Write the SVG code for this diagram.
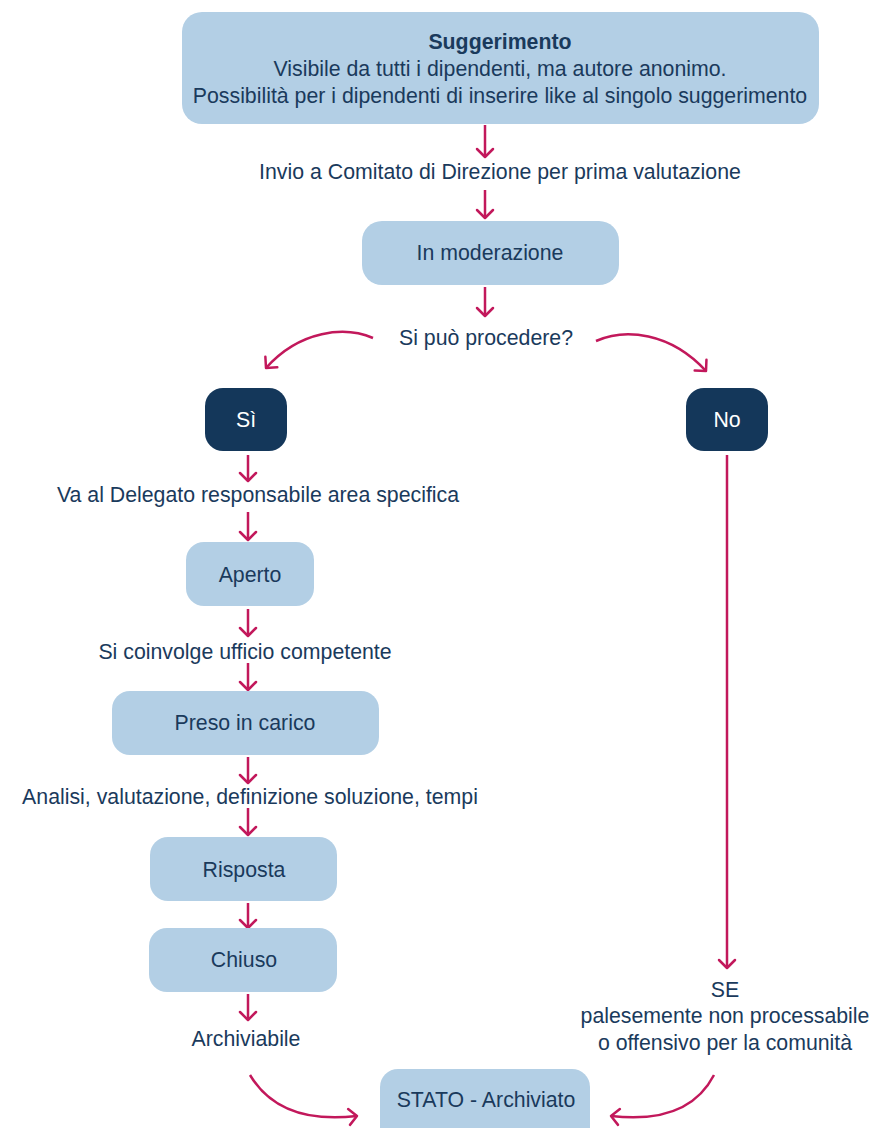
<svg xmlns="http://www.w3.org/2000/svg" width="872" height="1128" viewBox="0 0 872 1128">
<defs>
<marker id="ah" markerUnits="userSpaceOnUse" markerWidth="20" markerHeight="20" viewBox="-10 -10 20 20" refX="0" refY="0" orient="auto">
<path d="M-8,-8 L0,0 L-8,8" fill="none" stroke="#c2185b" stroke-width="2.5" stroke-linecap="round" stroke-linejoin="round"/>
</marker>
<style>
.lb{fill:#b3cfe5}
.dk{fill:#14375a}
.t{font-family:"Liberation Sans",Arial,sans-serif;font-size:21.3px;fill:#1a3a5c;text-anchor:middle}
.w{fill:#ffffff}
.b{font-weight:bold}
.c{fill:none;stroke:#c2185b;stroke-width:2.5;marker-end:url(#ah)}
</style>
</defs>
<rect width="872" height="1128" fill="#ffffff"/>
<g id="connectors">
<path class="c" d="M485,125 V157"/>
<path class="c" d="M485,190 V218"/>
<path class="c" d="M485,287 V316"/>
<path class="c" d="M373,338 C345,326 300,330 266,368"/>
<path class="c" d="M596,341 C625,328 670,332 706,371"/>
<path class="c" d="M248,455 V481"/>
<path class="c" d="M248,512 V540"/>
<path class="c" d="M248,609 V636"/>
<path class="c" d="M248,663 V690"/>
<path class="c" d="M248,757 V783"/>
<path class="c" d="M248,808 V835"/>
<path class="c" d="M248,903 V928"/>
<path class="c" d="M248,994 V1020"/>
<path class="c" d="M727,455 V968"/>
<path class="c" d="M250,1075 Q280,1125 357,1116"/>
<path class="c" d="M714,1075 Q688,1125 611,1116"/>
</g>
<g id="suggerimento">
<rect class="lb" x="182" y="12" width="637" height="112" rx="20"/>
<text class="t b" x="500" y="49">Suggerimento</text>
<text class="t" x="500" y="76">Visibile da tutti i dipendenti, ma autore anonimo.</text>
<text class="t" x="500" y="103">Possibilità per i dipendenti di inserire like al singolo suggerimento</text>
</g>
<g id="lbl-invio"><text class="t" x="500" y="179">Invio a Comitato di Direzione per prima valutazione</text></g>
<g id="moderazione">
<rect class="lb" x="362" y="221" width="257" height="64" rx="20"/>
<text class="t" x="490" y="260">In moderazione</text>
</g>
<g id="lbl-procedere"><text class="t" x="486" y="345">Si può procedere?</text></g>
<g id="si">
<rect class="dk" x="205" y="388" width="82" height="63" rx="18"/>
<text class="t w" x="246" y="427">Sì</text>
</g>
<g id="no">
<rect class="dk" x="686" y="388" width="82" height="63" rx="18"/>
<text class="t w" x="727" y="427">No</text>
</g>
<g id="lbl-delegato"><text class="t" x="258" y="502">Va al Delegato responsabile area specifica</text></g>
<g id="aperto">
<rect class="lb" x="186" y="542" width="128" height="64" rx="18"/>
<text class="t" x="250" y="582">Aperto</text>
</g>
<g id="lbl-ufficio"><text class="t" x="245" y="659">Si coinvolge ufficio competente</text></g>
<g id="preso">
<rect class="lb" x="112" y="691" width="267" height="64" rx="18"/>
<text class="t" x="245" y="730">Preso in carico</text>
</g>
<g id="lbl-analisi"><text class="t" x="250" y="804">Analisi, valutazione, definizione soluzione, tempi</text></g>
<g id="risposta">
<rect class="lb" x="150" y="837" width="187" height="64" rx="18"/>
<text class="t" x="244" y="877">Risposta</text>
</g>
<g id="chiuso">
<rect class="lb" x="149" y="928" width="188" height="64" rx="18"/>
<text class="t" x="244" y="967">Chiuso</text>
</g>
<g id="lbl-archiviabile"><text class="t" x="246" y="1046">Archiviabile</text></g>
<g id="lbl-se">
<text class="t" x="725" y="997">SE</text>
<text class="t" x="725" y="1023">palesemente non processabile</text>
<text class="t" x="725" y="1050">o offensivo per la comunità</text>
</g>
<g id="archiviato">
<rect class="lb" x="380" y="1069" width="210" height="80" rx="18"/>
<text class="t" x="486" y="1107">STATO - Archiviato</text>
</g>
</svg>
